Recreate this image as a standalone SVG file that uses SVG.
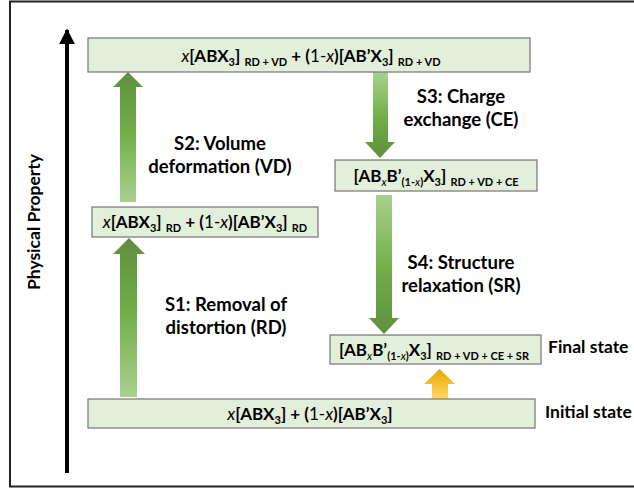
<svg xmlns="http://www.w3.org/2000/svg" width="634" height="493" viewBox="0 0 634 493">
<defs>
<linearGradient id="gUp" x1="0" y1="1" x2="0" y2="0">
<stop offset="0" stop-color="#a9d18e"/><stop offset="0.55" stop-color="#70ad47"/><stop offset="1" stop-color="#5f8f3e"/>
</linearGradient>
<linearGradient id="gDown" x1="0" y1="0" x2="0" y2="1">
<stop offset="0" stop-color="#a9d18e"/><stop offset="0.55" stop-color="#70ad47"/><stop offset="1" stop-color="#5f8f3e"/>
</linearGradient>
<linearGradient id="gYel" x1="0" y1="0" x2="0" y2="1">
<stop offset="0" stop-color="#e6a800"/><stop offset="1" stop-color="#ffd966"/>
</linearGradient>
<marker id="axisHead" viewBox="0 0 10 10" refX="9" refY="5" markerWidth="4" markerHeight="4" orient="auto" markerUnits="strokeWidth">
<path d="M0,0 L10,5 L0,10 z" fill="#000"/>
</marker>
</defs>
<style>
text{font-family:"Lato","Liberation Sans",sans-serif;font-weight:700;fill:#000;}
.box{fill:#e2efda;stroke:#7f7f7f;stroke-width:1.3;}
.f{font-size:17px;}
.lbl{font-size:18.5px;}
.side{font-size:17.5px;}
.sub{font-size:11px;}
.n{font-weight:400;}
.i{font-style:italic;font-weight:400;}
</style>
<rect x="10" y="1.5" width="640" height="485" fill="none" stroke="#222" stroke-width="2"/>
<g id="connectors">
<line x1="67" y1="473" x2="67" y2="30" stroke="#000" stroke-width="4" marker-end="url(#axisHead)"/>
<path d="M120,397 L120,254 L113,254 L129,238 L145,254 L137,254 L137,397 Z" fill="url(#gUp)"/>
<path d="M120,202 L120,87 L113,87 L128,72 L143,87 L136,87 L136,202 Z" fill="url(#gUp)"/>
<path d="M373,72 L388,72 L388,142 L395,142 L380,158 L365,142 L373,142 Z" fill="url(#gDown)"/>
<path d="M376,195 L392,195 L392,318 L399,318 L384,334 L369,318 L376,318 Z" fill="url(#gDown)"/>
<path d="M432,399 L432,384 L424,384 L439.5,369 L455,384 L448,384 L448,399 Z" fill="url(#gYel)"/>
</g>
<text x="40" y="222" class="side" text-anchor="middle" transform="rotate(-90 40 222)">Physical Property</text>
<g id="lbl-s2"><text x="220" y="150" class="lbl" text-anchor="middle">S2: Volume</text><text x="220" y="173" class="lbl" text-anchor="middle">deformation (VD)</text></g>
<g id="lbl-s1"><text x="226" y="311" class="lbl" text-anchor="middle">S1: Removal of</text><text x="226" y="334" class="lbl" text-anchor="middle">distortion (RD)</text></g>
<g id="lbl-s3"><text x="461" y="103" class="lbl" text-anchor="middle">S3: Charge</text><text x="461" y="126" class="lbl" text-anchor="middle">exchange (CE)</text></g>
<g id="lbl-s4"><text x="461" y="269" class="lbl" text-anchor="middle">S4: Structure</text><text x="461" y="292" class="lbl" text-anchor="middle">relaxation (SR)</text></g>
<g id="top">
<rect class="box" x="88" y="38" width="442" height="34"/>
<text x="311" y="62" class="f" text-anchor="middle"><tspan class="i">x</tspan>[ABX<tspan class="sub" dy="4">3</tspan><tspan dy="-4">] </tspan><tspan class="sub" dy="4">RD + VD</tspan><tspan dy="-4"> + (</tspan><tspan class="n">1-</tspan><tspan class="i">x</tspan>)[AB’X<tspan class="sub" dy="4">3</tspan><tspan dy="-4">] </tspan><tspan class="sub" dy="4">RD + VD</tspan></text>
</g>
<g id="mid">
<rect class="box" x="92" y="207" width="226" height="30"/>
<text x="205" y="228" class="f" text-anchor="middle"><tspan class="i">x</tspan>[ABX<tspan class="sub" dy="4">3</tspan><tspan dy="-4">] </tspan><tspan class="sub" dy="4">RD</tspan><tspan dy="-4"> + (</tspan><tspan class="n">1-</tspan><tspan class="i">x</tspan>)[AB’X<tspan class="sub" dy="4">3</tspan><tspan dy="-4">] </tspan><tspan class="sub" dy="4">RD</tspan></text>
</g>
<g id="ce">
<rect class="box" x="335" y="160" width="202" height="31"/>
<text x="436" y="182" class="f" text-anchor="middle">[AB<tspan class="sub i" dy="4">x</tspan><tspan dy="-4">B’</tspan><tspan class="sub" dy="4">(1-<tspan class="i">x</tspan>)</tspan><tspan dy="-4">X</tspan><tspan class="sub" dy="4">3</tspan><tspan dy="-4">] </tspan><tspan class="sub" dy="4">RD + VD + CE</tspan></text>
</g>
<g id="final">
<rect class="box" x="330" y="335" width="211" height="29"/>
<text x="434" y="356" class="f" text-anchor="middle">[AB<tspan class="sub i" dy="4">x</tspan><tspan dy="-4">B’</tspan><tspan class="sub" dy="4">(1-<tspan class="i">x</tspan>)</tspan><tspan dy="-4">X</tspan><tspan class="sub" dy="4">3</tspan><tspan dy="-4">] </tspan><tspan class="sub" dy="4">RD + VD + CE + SR</tspan></text>
<text x="548" y="353" class="side">Final state</text>
</g>
<g id="initial">
<rect class="box" x="88" y="399" width="447" height="29"/>
<text x="310" y="420" class="f" text-anchor="middle"><tspan class="i">x</tspan>[ABX<tspan class="sub" dy="4">3</tspan><tspan dy="-4">] + (</tspan><tspan class="n">1-</tspan><tspan class="i">x</tspan>)[AB’X<tspan class="sub" dy="4">3</tspan><tspan dy="-4">]</tspan></text>
<text x="545" y="418" class="side">Initial state</text>
</g>
</svg>
